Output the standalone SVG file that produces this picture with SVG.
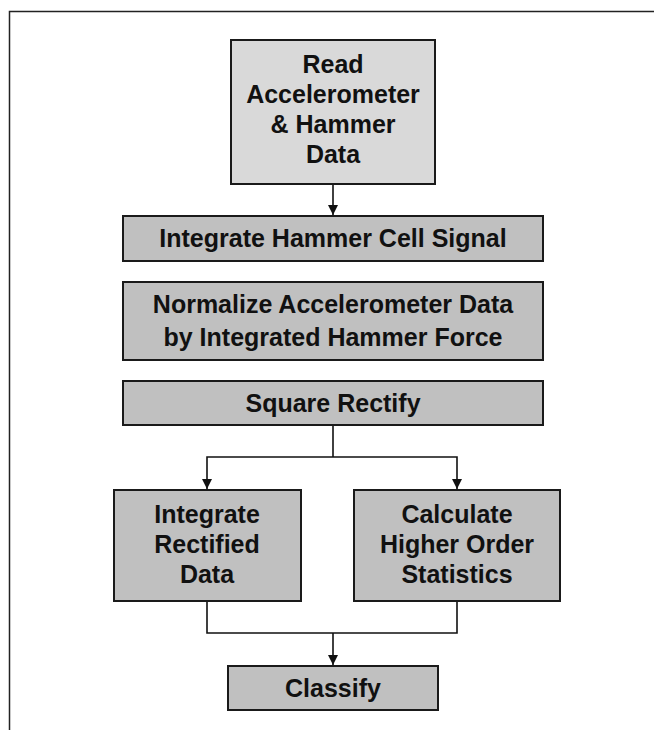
<svg xmlns="http://www.w3.org/2000/svg" width="654" height="730" viewBox="0 0 654 730">
<style>
.box{stroke:#1a1a1a;stroke-width:2}
.lt{fill:#d9d9d9}
.dk{fill:#c0c0c0}
text{font-family:"Liberation Sans",Arial,sans-serif;font-weight:bold;font-size:25px;fill:#111;text-anchor:middle}
.c{fill:none;stroke:#111;stroke-width:1.6}
</style>
<defs>
<marker id="ah" viewBox="0 0 10 10" refX="10" refY="5" markerWidth="10" markerHeight="10" markerUnits="userSpaceOnUse" orient="auto">
<path d="M0,0 L10,5 L0,10 z" fill="#111"/>
</marker>
</defs>
<rect width="654" height="730" fill="#fff"/>
<path d="M9.5,730 V11.5 H654" fill="none" stroke="#222" stroke-width="1.5"/>
<g id="n1"><rect class="box lt" x="231" y="40" width="204" height="144"/>
<text x="333" y="73">Read</text><text x="333" y="103">Accelerometer</text><text x="333" y="133">&amp; Hammer</text><text x="333" y="163">Data</text></g>
<g id="n2"><rect class="box dk" x="123" y="216" width="420" height="45"/><text x="333" y="247">Integrate Hammer Cell Signal</text></g>
<g id="n3"><rect class="box dk" x="123" y="282" width="420" height="78"/><text x="333" y="313">Normalize Accelerometer Data</text><text x="333" y="346">by Integrated Hammer Force</text></g>
<g id="n4"><rect class="box dk" x="123" y="381" width="420" height="44"/><text x="333" y="412">Square Rectify</text></g>
<g id="n5"><rect class="box dk" x="114" y="490" width="187" height="111"/><text x="207" y="523">Integrate</text><text x="207" y="553">Rectified</text><text x="207" y="583">Data</text></g>
<g id="n6"><rect class="box dk" x="354" y="490" width="206" height="111"/><text x="457" y="523">Calculate</text><text x="457" y="553">Higher Order</text><text x="457" y="583">Statistics</text></g>
<g id="n7"><rect class="box dk" x="228" y="666" width="210" height="44"/><text x="333" y="697">Classify</text></g>
<g id="connectors">
<path class="c" d="M333,185 V215" marker-end="url(#ah)"/>
<path class="c" d="M333,426 V457"/>
<path class="c" d="M333,457 H207 V489" marker-end="url(#ah)"/>
<path class="c" d="M333,457 H457 V489" marker-end="url(#ah)"/>
<path class="c" d="M207,602 V633 H457 V602"/>
<path class="c" d="M333,633 V665" marker-end="url(#ah)"/>
</g>
</svg>
